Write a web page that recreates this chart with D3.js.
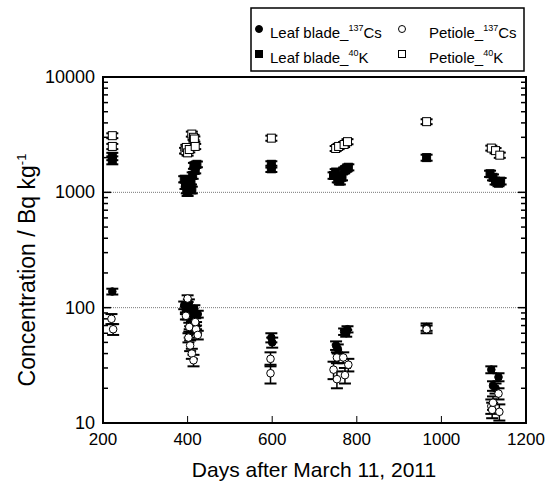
<!DOCTYPE html>
<html><head><meta charset="utf-8">
<script src="https://cdn.jsdelivr.net/npm/d3@7"></script>
<style>
body{margin:0;background:#fff}
svg{font-family:"Liberation Sans",Arial,sans-serif;}
</style>
</head><body>
<svg id="c" width="555" height="483"></svg>
<script>
// ---- Data ----
const xTicks = [200, 400, 600, 800, 1000, 1200];
const yTicks = [10, 100, 1000, 10000];
const refLines = [100, 1000];

const leafCsDays = [222, 392, 396, 400, 403, 406, 408, 410, 413, 416, 420, 424, 405, 598, 600, 751, 755, 770, 778, 775, 965, 1118, 1122, 1128, 1135];
const leafCsVals = [138, 105, 95, 85, 110, 75, 92, 65, 80, 98, 70, 88, 60, 55, 50, 47, 44, 62, 65, 60, 68, 29, 21, 20, 25];
const leafCsErr  = [8, 8, 7, 6, 8, 6, 7, 5, 6, 7, 5, 6, 5, 5, 5, 4, 4, 4, 4, 4, 5, 2, 2, 2, 2];

const petCsDays = [220, 224, 400, 396, 404, 402, 406, 410, 414, 420, 424, 418, 596, 596, 745, 753, 753, 768, 772, 780, 965, 1118, 1120, 1122, 1135, 1137];
const petCsVals = [80, 65, 120, 85, 68, 55, 47, 40, 35, 65, 58, 75, 36, 27, 29, 37, 24, 37, 26, 32, 65, 14, 13, 15, 18, 12.5];
const petCsErr  = [8, 7, 8, 6, 6, 5, 5, 4, 4, 5, 5, 6, 5, 5, 5, 4, 4, 4, 4, 4, 5, 2, 2, 2, 2, 2];

const leafKDays = [222, 222, 392, 395, 398, 400, 402, 405, 408, 412, 415, 418, 422, 410, 598, 598, 745, 750, 755, 760, 765, 770, 775, 780, 965, 1115, 1122, 1128, 1135, 1140];
const leafKVals = [2050, 1900, 1300, 1150, 1050, 1000, 1200, 1100, 1250, 1400, 1700, 1550, 1750, 1050, 1750, 1600, 1400, 1500, 1300, 1250, 1350, 1550, 1600, 1650, 2000, 1450, 1350, 1250, 1200, 1250];
const leafKErr  = [150, 150, 80, 80, 70, 70, 80, 70, 80, 90, 100, 90, 100, 70, 110, 100, 90, 90, 80, 80, 80, 90, 90, 100, 120, 90, 80, 80, 70, 80];

const petKDays = [222, 222, 394, 397, 400, 404, 410, 414, 416, 418, 598, 750, 757, 770, 778, 965, 1118, 1128, 1138];
const petKVals = [3100, 2500, 2300, 2450, 2200, 2350, 3200, 3000, 2900, 2500, 2950, 2400, 2500, 2600, 2750, 4100, 2420, 2300, 2100];
const petKErr  = [150, 130, 130, 130, 120, 130, 160, 150, 150, 130, 150, 120, 130, 130, 140, 200, 120, 120, 110];

const legendLabels = [
  {pre: "Leaf blade_", sup: "137", post: "Cs"},
  {pre: "Leaf blade_", sup: "40", post: "K"},
  {pre: "Petiole_", sup: "137", post: "Cs"},
  {pre: "Petiole_", sup: "40", post: "K"}
];

// ---- Layout ----
const svg = d3.select("#c");
const L = 103, R = 526, T = 77, B = 423;
const x = d3.scaleLinear().domain([200, 1200]).range([L, R]);
const y = d3.scaleLog().domain([10, 10000]).range([B, T]);

// reference dotted lines
svg.selectAll("line.ref").data(refLines).enter().append("line")
  .attr("x1", L).attr("x2", R).attr("y1", d => y(d)).attr("y2", d => y(d))
  .attr("stroke", "#777").attr("stroke-width", 1).attr("stroke-dasharray", "1,1");

// minor/major y ticks (inside, both sides)
const yMinor = [];
[10, 100, 1000].forEach(d => { for (let k = 2; k <= 9; k++) yMinor.push(d * k); });
const g = svg.append("g");
yMinor.forEach(v => {
  g.append("line").attr("x1", L).attr("x2", L + 5).attr("y1", y(v)).attr("y2", y(v)).attr("stroke", "#000").attr("stroke-width", 1.5);
  g.append("line").attr("x1", R).attr("x2", R - 5).attr("y1", y(v)).attr("y2", y(v)).attr("stroke", "#000").attr("stroke-width", 1.5);
});
yTicks.forEach(v => {
  g.append("line").attr("x1", L).attr("x2", L + 8).attr("y1", y(v)).attr("y2", y(v)).attr("stroke", "#000").attr("stroke-width", 1.5);
  g.append("line").attr("x1", R).attr("x2", R - 8).attr("y1", y(v)).attr("y2", y(v)).attr("stroke", "#000").attr("stroke-width", 1.5);
});
xTicks.forEach(v => {
  g.append("line").attr("x1", x(v)).attr("x2", x(v)).attr("y1", B).attr("y2", B - 7).attr("stroke", "#000").attr("stroke-width", 1);
});

// frame
svg.append("rect").attr("x", L).attr("y", T).attr("width", R - L).attr("height", B - T)
  .attr("fill", "none").attr("stroke", "#000").attr("stroke-width", 2);

// tick labels
svg.selectAll("text.xt").data(xTicks).enter().append("text")
  .attr("x", d => x(d)).attr("y", 445).attr("text-anchor", "middle")
  .attr("font-size", 17).text(d => d);
svg.selectAll("text.yt").data(yTicks).enter().append("text")
  .attr("x", 95).attr("y", d => y(d) + 6).attr("text-anchor", "end")
  .attr("font-size", 18).text(d => d);

// axis titles
svg.append("text").attr("x", 314).attr("y", 477).attr("text-anchor", "middle")
  .attr("font-size", 21).text("Days after March 11, 2011");
const yt = svg.append("text").attr("transform", "translate(35,270) rotate(-90)")
  .attr("text-anchor", "middle").attr("font-size", 23);
yt.append("tspan").text("Concentration / Bq kg");
yt.append("tspan").attr("dy", -9).attr("font-size", 13).text("-1");

// series drawing
function drawSeries(days, vals, errs, shape, filled) {
  const grp = svg.append("g");
  const data = days.map((d, i) => ({d, v: vals[i], e: errs[i]}));
  const cap = 6;
  data.forEach(p => {
    const cx = x(p.d), yTop = y(p.v + p.e), yBot = y(Math.max(p.v - p.e, 10.01));
    grp.append("line").attr("x1", cx).attr("x2", cx).attr("y1", yTop).attr("y2", yBot).attr("stroke", "#000").attr("stroke-width", 1.5);
    grp.append("line").attr("x1", cx - cap).attr("x2", cx + cap).attr("y1", yTop).attr("y2", yTop).attr("stroke", "#000").attr("stroke-width", 2);
    grp.append("line").attr("x1", cx - cap).attr("x2", cx + cap).attr("y1", yBot).attr("y2", yBot).attr("stroke", "#000").attr("stroke-width", 2);
  });
  data.forEach(p => {
    const cx = x(p.d), cy = y(p.v);
    if (shape === "circle") {
      grp.append("circle").attr("cx", cx).attr("cy", cy).attr("r", 3.8)
        .attr("fill", filled ? "#000" : "#fff").attr("stroke", "#000").attr("stroke-width", 1);
    } else {
      grp.append("rect").attr("x", cx - 4).attr("y", cy - 4).attr("width", 8).attr("height", 8)
        .attr("fill", filled ? "#000" : "#fff").attr("stroke", "#000").attr("stroke-width", 1);
    }
  });
}
drawSeries(leafCsDays, leafCsVals, leafCsErr, "circle", true);
drawSeries(leafKDays, leafKVals, leafKErr, "square", true);
drawSeries(petCsDays, petCsVals, petCsErr, "circle", false);
drawSeries(petKDays, petKVals, petKErr, "square", false);

// legend
svg.append("rect").attr("x", 251).attr("y", 8).attr("width", 273).attr("height", 63)
  .attr("fill", "#fff").attr("stroke", "#000").attr("stroke-width", 1.5);
const legPos = [
  {mx: 259, tx: 270, y: 33, shape: "circle", filled: true},
  {mx: 259, tx: 270, y: 58, shape: "square", filled: true},
  {mx: 402, tx: 429, y: 33, shape: "circle", filled: false},
  {mx: 402, tx: 429, y: 58, shape: "square", filled: false}
];
legendLabels.forEach((lab, i) => {
  const p = legPos[i];
  if (p.shape === "circle") {
    svg.append("circle").attr("cx", p.mx).attr("cy", p.y - 4).attr("r", 3.5)
      .attr("fill", p.filled ? "#000" : "#fff").attr("stroke", "#000");
  } else {
    svg.append("rect").attr("x", p.mx - 3.5).attr("y", p.y - 7.5).attr("width", 7).attr("height", 7)
      .attr("fill", p.filled ? "#000" : "#fff").attr("stroke", "#000");
  }
  const t = svg.append("text").attr("x", p.tx).attr("y", p.y + 5).attr("font-size", 15);
  t.append("tspan").text(lab.pre);
  t.append("tspan").attr("dy", -7).attr("font-size", 9).text(lab.sup);
  t.append("tspan").attr("dy", 7).text(lab.post);
});
</script>
</body></html>
